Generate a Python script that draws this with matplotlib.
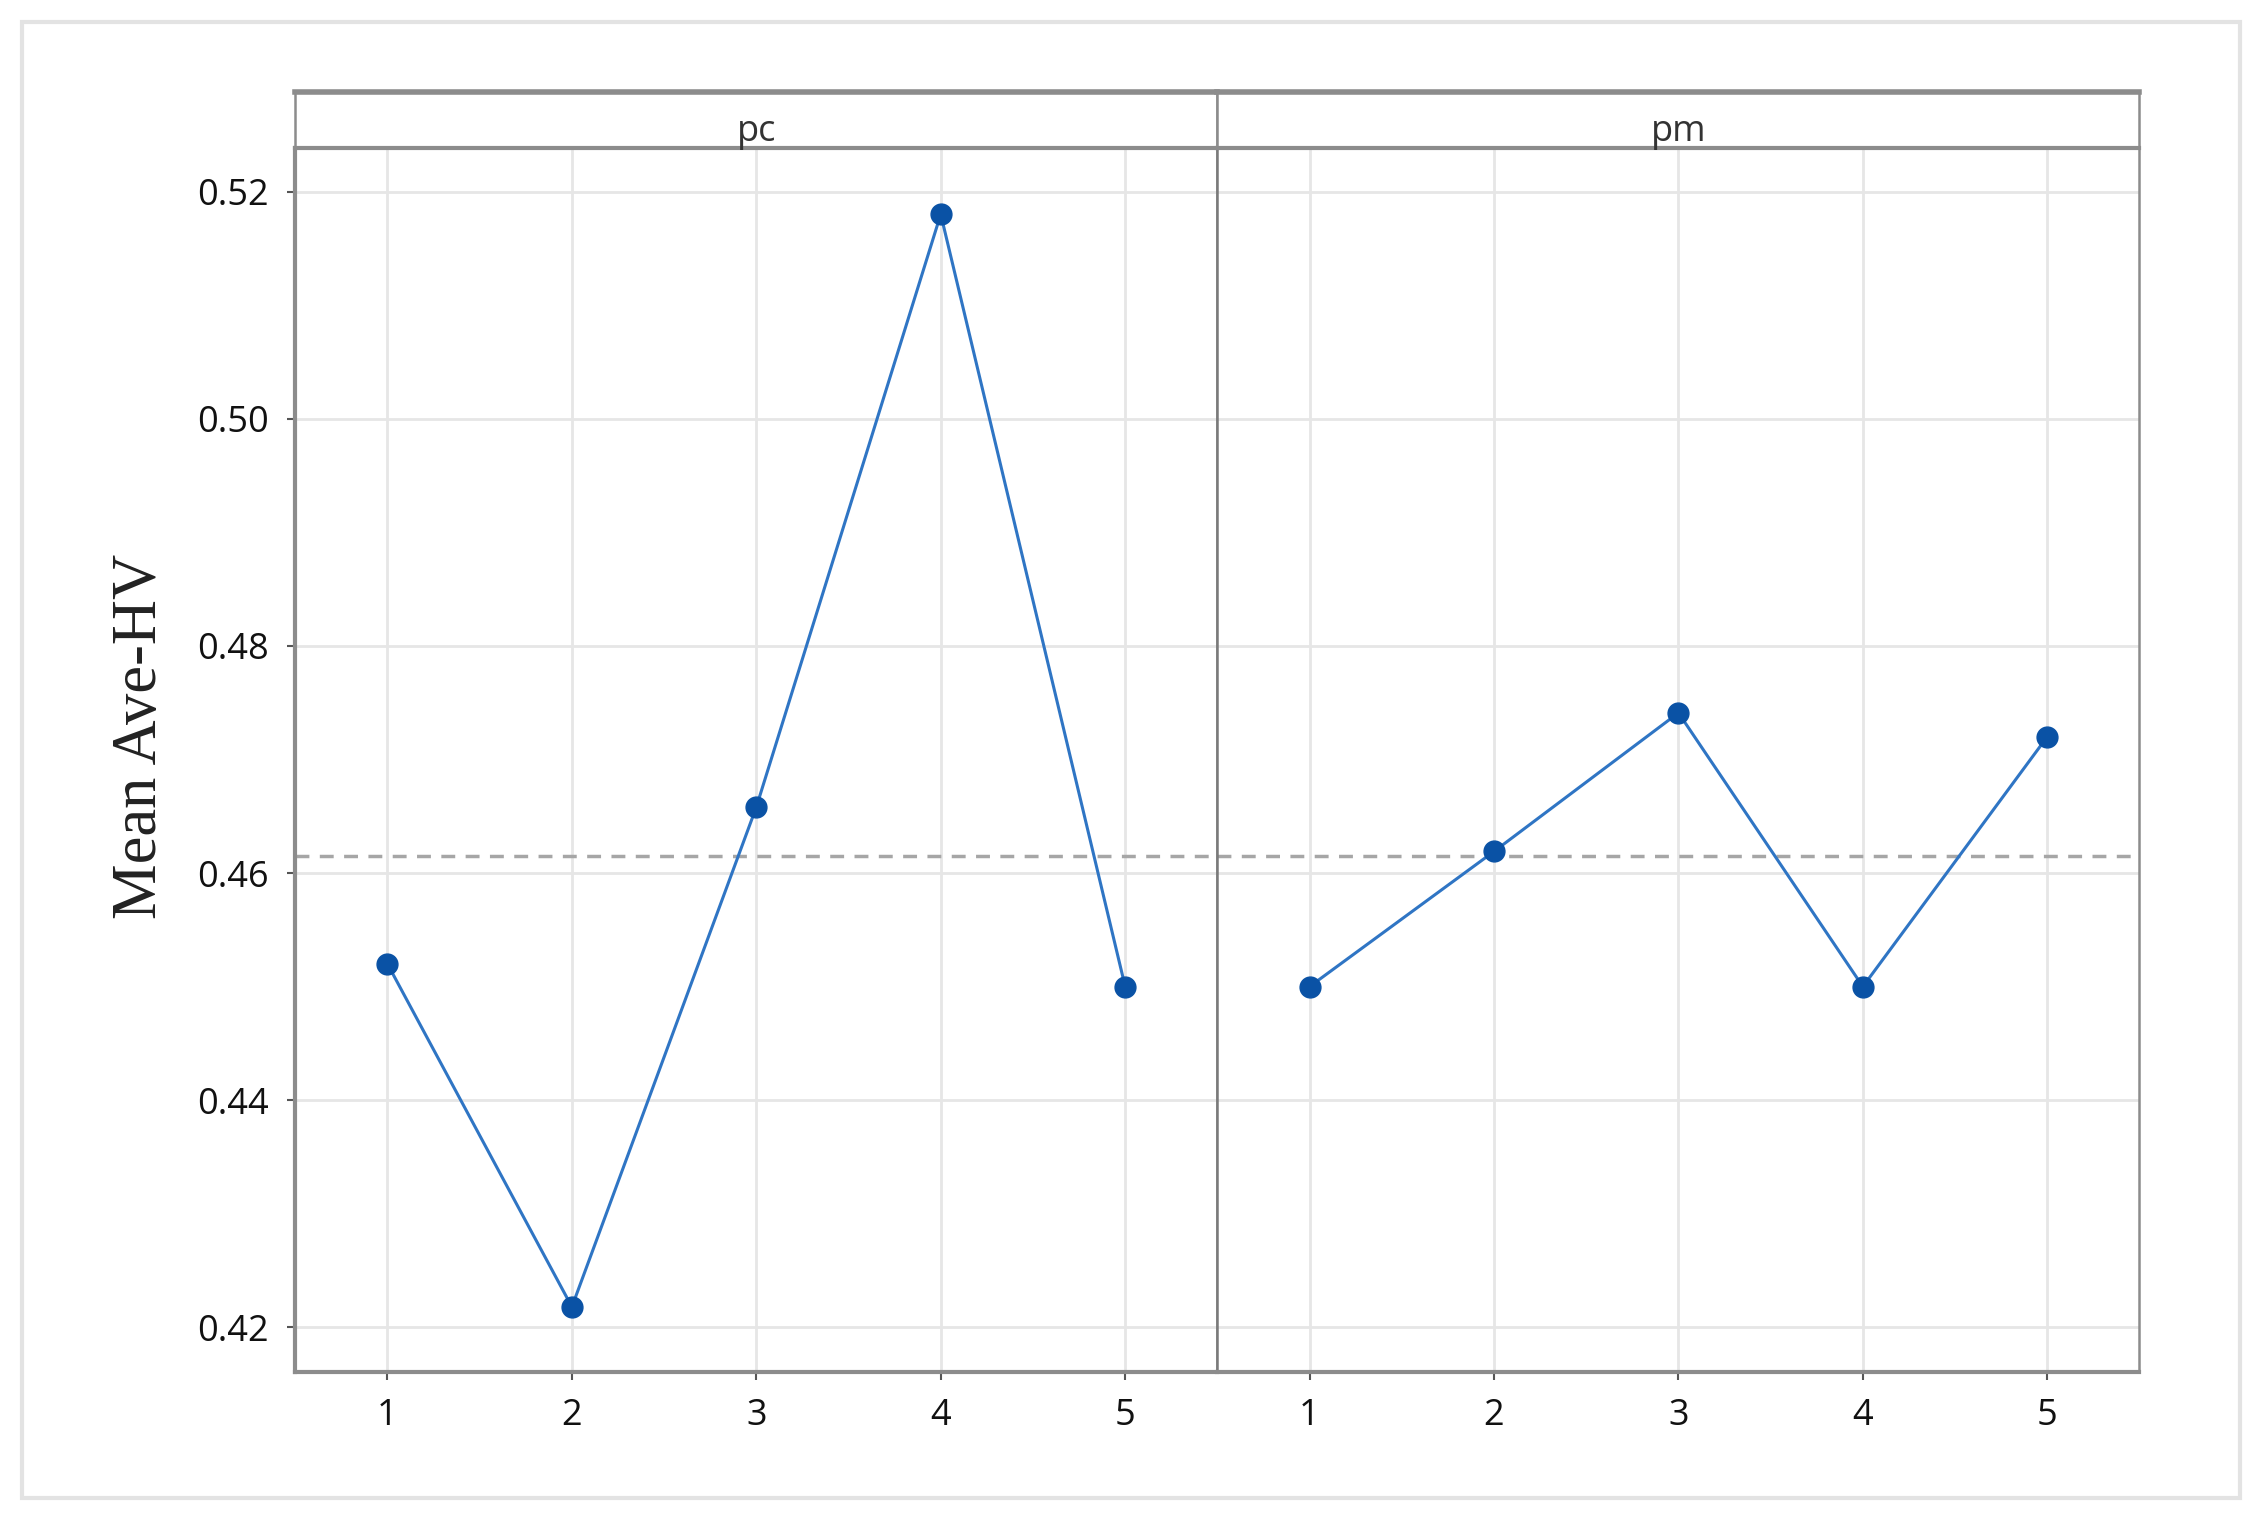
import numpy as np
import matplotlib
matplotlib.use("Agg")
import matplotlib.pyplot as plt
from matplotlib.patches import Rectangle

# Data
levels = [1, 2, 3, 4, 5]
panels = ["pc", "pm"]
pc_means = [0.4520, 0.4218, 0.4658, 0.5180, 0.4500]
pm_means = [0.4500, 0.4619, 0.4741, 0.4500, 0.4720]
y_ticks = [0.42, 0.44, 0.46, 0.48, 0.50, 0.52]
y_label = "Mean Ave-HV"

grand_mean = np.mean(pc_means)

plt.rcParams["font.family"] = ["Open Sans", "DejaVu Sans"]

fig = plt.figure(figsize=(22.59, 15.20), dpi=100)

# outer light frame
fig.patches.append(Rectangle((0.0096, 0.0142), 0.9821, 0.9716, transform=fig.transFigure,
                             fill=False, edgecolor="#e3e3e3", linewidth=3))

left, mid, right = 0.1307, 0.5389, 0.9471
bottom, top, strip_top = 0.0976, 0.9024, 0.9393

ax1 = fig.add_axes([left, bottom, mid - left, top - bottom])
ax2 = fig.add_axes([mid, bottom, right - mid, top - bottom], sharey=ax1)

line_col = "#2f75c4"
mark_col = "#0a52a5"
spine_col = "#8c8c8c"

for ax, vals, name in zip([ax1, ax2], [pc_means, pm_means], panels):
    ax.plot(levels, vals, color=line_col, linewidth=2.2, marker="o",
            markersize=15, markerfacecolor=mark_col, markeredgecolor=mark_col, zorder=3)
    ax.axhline(grand_mean, color="#a6a6a6", linestyle=(0, (4, 3)), linewidth=2.5, zorder=2)
    ax.set_xlim(0.5, 5.5)
    ax.set_ylim(0.4161, 0.5238)
    ax.set_xticks(levels)
    ax.set_yticks(y_ticks)
    ax.grid(True, color="#e6e6e6", linewidth=2)
    ax.set_axisbelow(True)
    ax.tick_params(axis="both", labelsize=26, colors="#555555", labelcolor="#111111",
                   length=6, width=1.5, pad=13)
    for s in ax.spines.values():
        s.set_color(spine_col)
        s.set_linewidth(1.8)
    ax.spines["bottom"].set_linewidth(3)

    # strip on top of each panel
    sx = ax.get_position()
    sax = fig.add_axes([sx.x0, top, sx.width, strip_top - top])
    sax.set_xticks([])
    sax.set_yticks([])
    for s in sax.spines.values():
        s.set_color(spine_col)
        s.set_linewidth(1.8)
    sax.spines["top"].set_linewidth(4)
    sax.spines["bottom"].set_linewidth(3)
    sax.text(0.5, 0.3, name, ha="center", va="center", fontsize=26,
             color="#333333", transform=sax.transAxes)

ax1.yaxis.set_major_formatter(matplotlib.ticker.FormatStrFormatter("%.2f"))
ax1.spines["left"].set_linewidth(3)
ax2.tick_params(axis="y", left=False, labelleft=False)
ax1.spines["right"].set_color("#7a7a7a")
ax2.spines["left"].set_color("#7a7a7a")

ax1.set_ylabel(y_label, fontsize=45, family=["Liberation Serif", "DejaVu Serif"],
               color="#222222")
ax1.yaxis.set_label_coords(-0.136, 0.519)

fig.savefig("out.png", dpi=100)
